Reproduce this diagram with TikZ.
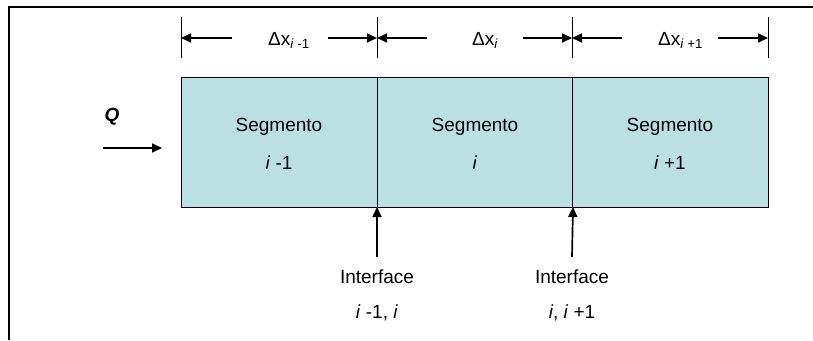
\documentclass[tikz,border=0pt]{standalone}
\usepackage{fontspec}
\setmainfont{Liberation Sans}
\usetikzlibrary{arrows.meta}
\definecolor{segfill}{RGB}{187,224,227}
\begin{document}
\begin{tikzpicture}[x=1pt,y=-1pt,font=\fontsize{19}{22}\selectfont,
  seg/.style={draw,line width=1pt,fill=segfill,minimum width=196pt,minimum height=130pt,inner sep=0pt,outer sep=0pt,anchor=north west},
  arr/.style={-{Triangle[length=10pt,width=9pt]},line width=1.7pt},
  tickline/.style={line width=1pt},
  txt/.style={inner sep=0pt},
  dlbl/.style={inner sep=0pt,anchor=base west}]
\useasboundingbox (0,0) rectangle (813,340);
\draw[line width=2pt] (9,340) -- (9,7) -- (813,7);
% segments
\node[seg] (s1) at (181,77) {};
\node[seg] (s2) at (377,77) {};
\node[seg] (s3) at (572,77) {};
\node[txt] (t1a) at (279,127) {Segmento};
\node[txt] (t1b) at (279,163) {\textit{i} -1};
\node[txt] (t2a) at (475,127) {Segmento};
\node[txt] (t2b) at (475,163) {\textit{i}};
\node[txt] (t3a) at (670,127) {Segmento};
\node[txt] (t3b) at (670,163) {\textit{i} +1};
% dimension ticks
\foreach \n/\x in {0/181,1/377,2/572,3/768}{
  \coordinate (k\n t) at (\x,17);
  \coordinate (k\n m) at (\x,38);
  \coordinate (k\n b) at (\x,58);
  \draw[tickline] (k\n t) -- (k\n b);
}
\coordinate (d1l) at (232,38); \coordinate (d1r) at (328,38);
\coordinate (d2l) at (427,38); \coordinate (d2r) at (523,38);
\coordinate (d3l) at (622,38); \coordinate (d3r) at (718,38);
\draw[arr] (d1l) -- (k0m);
\draw[arr] (d1r) -- (k1m);
\draw[arr] (d2l) -- (k1m);
\draw[arr] (d2r) -- (k2m);
\draw[arr] (d3l) -- (k2m);
\draw[arr] (d3r) -- (k3m);
\node[dlbl] (l1) at (268,45) {Δx\textsubscript{\textit{i} -1}};
\node[dlbl] (l2) at (472,45) {Δx\textsubscript{\textit{i}}};
\node[dlbl] (l3) at (658,45) {Δx\textsubscript{\textit{i} +1}};
% Q arrow
\node[txt] (q) at (112,117) {\bfseries\itshape Q};
\coordinate (qa) at (103,148); \coordinate (qb) at (162,148);
\draw[arr] (qa) -- (qb);
% interfaces
\coordinate (f1) at (377,257); \coordinate (f2) at (572,257);
\draw[arr] (f1) -- (s1.south east);
\draw[arr] (f2) -- (s2.south east);
\node[txt] (i1a) at (377,277) {Interface};
\node[txt] (i1b) at (377,313) {\textit{i} -1, \textit{i}};
\node[txt] (i2a) at (572,277) {Interface};
\node[txt] (i2b) at (572,313) {\textit{i}, \textit{i} +1};
\end{tikzpicture}
\end{document}
